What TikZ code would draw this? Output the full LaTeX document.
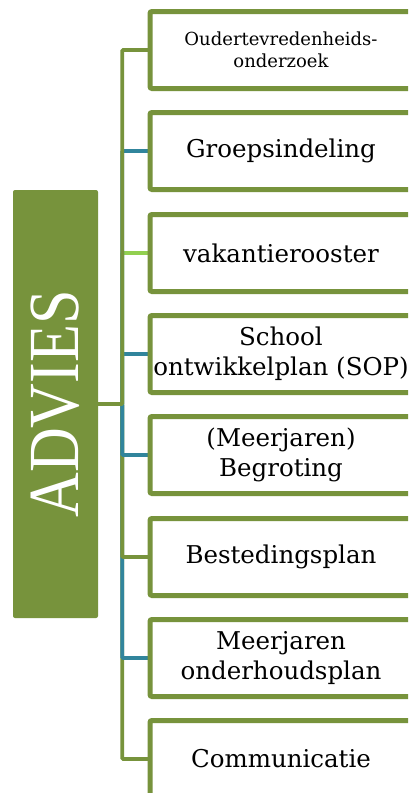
\documentclass[tikz,border=0pt]{standalone}
\usepackage{fontspec}
\setmainfont{DejaVu Serif}
\newfontfamily\advfont{Liberation Serif}
\definecolor{olive}{HTML}{77933C}
\definecolor{tealc}{HTML}{31859C}
\definecolor{lgreen}{HTML}{92D050}
\tikzset{
  itembox/.style={draw=olive, line width=5pt, fill=white, rounded corners=2pt,
    minimum width=262pt, minimum height=77pt, align=center, inner sep=0pt,
    font=\fontsize{24.5}{30}\selectfont, text=black},
  conn/.style={line width=3.6pt, rounded corners=1pt},
}
\begin{document}
\begin{tikzpicture}[x=1pt,y=-1pt]
\useasboundingbox (0,0) rectangle (408,793);
\clip (0,0) rectangle (408,793);
\fill[white] (0,0) rectangle (408,793);
\node[fill=olive, rounded corners=2pt, minimum width=85pt, minimum height=428pt, inner sep=0pt] (adv) at (55.5,404)
  {\rotatebox{90}{\scalebox{1}[1.16]{\advfont\fontsize{62}{62}\selectfont\color{white}ADVIES}}};
% connectors
\draw[conn, olive] (adv.east) -- ++(24,0) |- (150,759) coordinate (c8);
\draw[conn, tealc] (adv.east) -- ++(24,0) |- (150,658) coordinate (c7);
\draw[conn, olive] (adv.east) -- ++(24,0) |- (150,557) coordinate (c6);
\draw[conn, tealc] (adv.east) -- ++(24,0) |- (150,455) coordinate (c5);
\draw[conn, tealc] (adv.east) -- ++(24,0) |- (150,354) coordinate (c4);
\draw[conn, lgreen] (adv.east) -- ++(24,0) |- (150,253) coordinate (c3);
\draw[conn, tealc] (adv.east) -- ++(24,0) |- (150,151) coordinate (c2);
\draw[conn, olive] (adv.east) -- ++(24,0) |- (150,50) coordinate (c1);
% boxes
\node[itembox, font=\fontsize{18}{22}\selectfont] (b1) at (281,50) {Oudertevredenheids-\\onderzoek};
\node[itembox] (b2) at (281,151) {Groepsindeling};
\node[itembox] (b3) at (281,253) {vakantierooster};
\node[itembox] (b4) at (281,354) {School\\ontwikkelplan (SOP)};
\node[itembox] (b5) at (281,455) {(Meerjaren)\\Begroting};
\node[itembox] (b6) at (281,557) {Bestedingsplan};
\node[itembox] (b7) at (281,658) {Meerjaren\\onderhoudsplan};
\node[itembox] (b8) at (281,759) {Communicatie};
\end{tikzpicture}
\end{document}
